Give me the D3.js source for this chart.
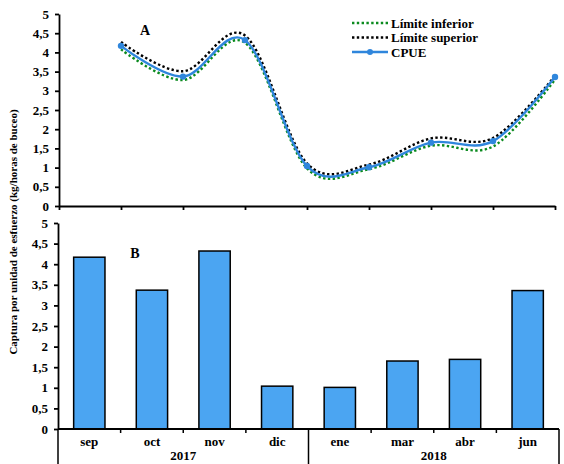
<!DOCTYPE html>
<html>
<head>
<meta charset="utf-8">
<script src="https://cdn.jsdelivr.net/npm/d3@7"></script>
<style>
  body { margin: 0; background: #fff; }
  svg text { font-family: "Liberation Serif", "Times New Roman", serif; font-weight: bold; fill: #000; }
</style>
</head>
<body>
<svg id="chart" width="564" height="464"></svg>
<script>
// data
const months = ["sep", "oct", "nov", "dic", "ene", "mar", "abr", "jun"];
const years = ["2017", "2018"];
const monthsPerYear = [4, 4];
const cpue = [4.17, 3.37, 4.32, 1.04, 1.01, 1.65, 1.69, 3.36];
const lower = [4.08, 3.28, 4.25, 0.98, 0.96, 1.57, 1.55, 3.29];
const upper = [4.27, 3.51, 4.44, 1.11, 1.08, 1.76, 1.77, 3.39];
const yTicks = [0, 0.5, 1, 1.5, 2, 2.5, 3, 3.5, 4, 4.5, 5];

const fmt = (d) => String(d).replace(".", ",");
const $svg = d3.select("svg#chart");
const green = "#0a8a1e";
const blue = "#2f86dc";
const barFill = "#4ba5f2";

// ---- panel A (lines) ----
const xA = d3.scalePoint().domain([""].concat(months)).range([59, 555]);
const yA = d3.scaleLinear().domain([0, 5]).range([206, 14]);

const $a = $svg.append("g");
$a.append("g")
  .attr("transform", "translate(59,0)")
  .call(d3.axisLeft(yA).tickValues(yTicks).tickFormat(fmt).tickSize(4).tickPadding(6).tickSizeOuter(0))
  .call((g) => g.selectAll("text").style("font-size", "13px"));
$a.append("g")
  .attr("transform", "translate(0,206)")
  .call(d3.axisBottom(xA).tickSize(4).tickSizeOuter(0).tickFormat(""));
$a.selectAll(".domain, .tick line").attr("stroke", "#000").attr("stroke-width", 1.8);

const line = (vals) =>
  d3.line()
    .x((d, i) => xA(months[i]))
    .y((d) => yA(d))
    .curve(d3.curveCardinal.tension(0))(vals);

$a.append("path").attr("d", line(lower)).attr("fill", "none")
  .attr("stroke", green).attr("stroke-width", 2.4).attr("stroke-dasharray", "2.4,2.4");
$a.append("path").attr("d", line(upper)).attr("fill", "none")
  .attr("stroke", "#000").attr("stroke-width", 2.4).attr("stroke-dasharray", "2.4,2.4");
$a.append("path").attr("d", line(cpue)).attr("fill", "none")
  .attr("stroke", blue).attr("stroke-width", 2.4);
$a.selectAll("circle.pt").data(cpue).join("circle")
  .attr("class", "pt")
  .attr("cx", (d, i) => xA(months[i]))
  .attr("cy", (d) => yA(d))
  .attr("r", 3.2)
  .attr("fill", blue);

$a.append("text").attr("x", 145).attr("y", 35).style("font-size", "14px")
  .attr("text-anchor", "middle").text("A");

// legend
const legend = [
  { label: "Límite inferior", color: green, dash: "2.4,2.4", marker: false },
  { label: "Límite superior", color: "#000", dash: "2.4,2.4", marker: false },
  { label: "CPUE", color: blue, dash: null, marker: true },
];
const $leg = $a.selectAll("g.leg").data(legend).join("g")
  .attr("class", "leg")
  .attr("transform", (d, i) => `translate(352,${23 + i * 14.5})`);
$leg.append("line").attr("x1", 0).attr("x2", 36).attr("y1", 0).attr("y2", 0)
  .attr("stroke", (d) => d.color).attr("stroke-width", 2.4)
  .attr("stroke-dasharray", (d) => d.dash);
$leg.filter((d) => d.marker).append("circle")
  .attr("cx", 18).attr("cy", 0).attr("r", 3).attr("fill", (d) => d.color);
$leg.append("text").attr("x", 39).attr("y", 4.5).style("font-size", "13px").text((d) => d.label);

// ---- panel B (bars) ----
const xB = d3.scaleBand().domain(months).range([58, 559]).paddingInner(0.5).paddingOuter(0.25);
const yB = d3.scaleLinear().domain([0, 5]).range([429, 223]);
const step = xB.step();

const $b = $svg.append("g");
$b.selectAll("rect.bar").data(cpue).join("rect")
  .attr("class", "bar")
  .attr("x", (d, i) => xB(months[i]))
  .attr("y", (d) => yB(d))
  .attr("width", xB.bandwidth())
  .attr("height", (d) => yB(0) - yB(d))
  .attr("fill", barFill)
  .attr("stroke", "#000")
  .attr("stroke-width", 1.5);

$b.append("g")
  .attr("transform", "translate(58,0)")
  .call(d3.axisLeft(yB).tickValues(yTicks).tickFormat(fmt).tickSize(4).tickPadding(6).tickSizeOuter(0))
  .call((g) => g.selectAll("text").style("font-size", "13px"));
$b.selectAll(".domain, .tick line").attr("stroke", "#000").attr("stroke-width", 1.8);

// category axis
$b.append("line").attr("x1", 58).attr("x2", 559).attr("y1", 429).attr("y2", 429)
  .attr("stroke", "#000").attr("stroke-width", 1.8);
const bounds = d3.range(0, months.length + 1);
const groupEdges = [0];
monthsPerYear.forEach((n, i) => groupEdges.push(groupEdges[i] + n));
$b.selectAll("line.sep").data(bounds).join("line")
  .attr("class", "sep")
  .attr("x1", (i) => 58 + i * step)
  .attr("x2", (i) => 58 + i * step)
  .attr("y1", 429)
  .attr("y2", (i) => (groupEdges.includes(i) ? 464 : 433))
  .attr("stroke", "#000")
  .attr("stroke-width", 1.5);
$b.selectAll("text.month").data(months).join("text")
  .attr("class", "month")
  .attr("x", (d) => xB(d) + xB.bandwidth() / 2)
  .attr("y", 446)
  .attr("text-anchor", "middle")
  .style("font-size", "13px")
  .text((d) => d);
$b.selectAll("text.year").data(years).join("text")
  .attr("class", "year")
  .attr("x", (d, i) => 58 + ((groupEdges[i] + groupEdges[i + 1]) / 2) * step)
  .attr("y", 460)
  .attr("text-anchor", "middle")
  .style("font-size", "13px")
  .text((d) => d);

$b.append("text").attr("x", 135).attr("y", 258).style("font-size", "14px")
  .attr("text-anchor", "middle").text("B");

// shared y label
$svg.append("text")
  .attr("transform", "translate(17,232) rotate(-90)")
  .attr("text-anchor", "middle")
  .style("font-size", "11px")
  .text("Captura por unidad de esfuerzo (kg/horas de buceo)");
</script>
</body>
</html>
